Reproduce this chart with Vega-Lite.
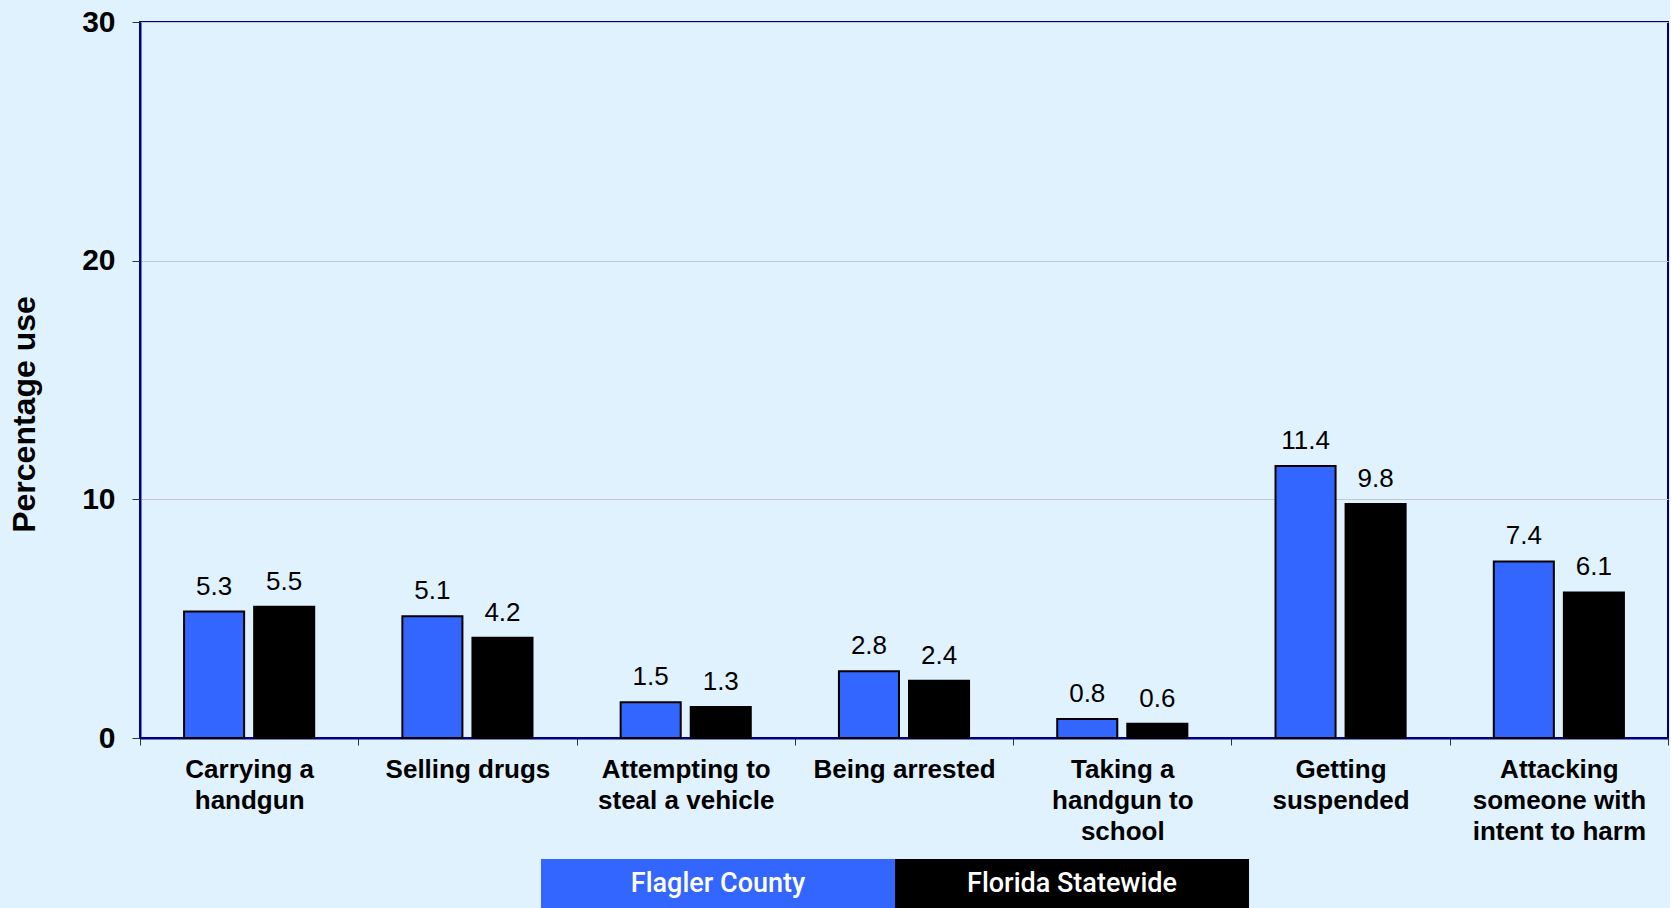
{
  "$schema": "https://vega.github.io/schema/vega-lite/v6.json",
  "background": "#E0F2FE",
  "padding": {"left": 7, "top": 6, "right": 0, "bottom": 0},
  "config": {
    "font": "Liberation Sans",
    "view": {"stroke": null}
  },
  "datasets": {
    "rates": [
      {"behavior": "Carrying a handgun", "area": "Flagler County", "pct": 5.3},
      {"behavior": "Carrying a handgun", "area": "Florida Statewide", "pct": 5.5},
      {"behavior": "Selling drugs", "area": "Flagler County", "pct": 5.1},
      {"behavior": "Selling drugs", "area": "Florida Statewide", "pct": 4.2},
      {"behavior": "Attempting to steal a vehicle", "area": "Flagler County", "pct": 1.5},
      {"behavior": "Attempting to steal a vehicle", "area": "Florida Statewide", "pct": 1.3},
      {"behavior": "Being arrested", "area": "Flagler County", "pct": 2.8},
      {"behavior": "Being arrested", "area": "Florida Statewide", "pct": 2.4},
      {"behavior": "Taking a handgun to school", "area": "Flagler County", "pct": 0.8},
      {"behavior": "Taking a handgun to school", "area": "Florida Statewide", "pct": 0.6},
      {"behavior": "Getting suspended", "area": "Flagler County", "pct": 11.4},
      {"behavior": "Getting suspended", "area": "Florida Statewide", "pct": 9.8},
      {"behavior": "Attacking someone with intent to harm", "area": "Flagler County", "pct": 7.4},
      {"behavior": "Attacking someone with intent to harm", "area": "Florida Statewide", "pct": 6.1}
    ],
    "series": [
      {"area": "Flagler County"},
      {"area": "Florida Statewide"}
    ]
  },
  "vconcat": [
    {
      "width": 1528,
      "height": 716,
      "data": {"name": "rates"},
      "view": {"stroke": "#000080", "strokeWidth": 2, "fill": "#E0F2FE"},
      "encoding": {
        "x": {
          "field": "behavior",
          "type": "nominal",
          "sort": null,
          "scale": {"paddingInner": 0, "paddingOuter": 0},
          "axis": {
            "title": null,
            "labelAngle": 0,
            "labelFontSize": 26,
            "labelFontWeight": "bold",
            "labelColor": "#000000",
            "labelLineHeight": 31,
            "labelPadding": 11,
            "labelLimit": 0,
            "tickBand": "extent",
            "tickColor": "#333333",
            "tickSize": 7,
            "domainColor": "#000080",
            "domainWidth": 2,
            "grid": false,
            "labelExpr": "datum.value == 'Carrying a handgun' ? ['Carrying a', 'handgun'] : datum.value == 'Attempting to steal a vehicle' ? ['Attempting to', 'steal a vehicle'] : datum.value == 'Taking a handgun to school' ? ['Taking a', 'handgun to', 'school'] : datum.value == 'Getting suspended' ? ['Getting', 'suspended'] : datum.value == 'Attacking someone with intent to harm' ? ['Attacking', 'someone with', 'intent to harm'] : datum.value"
          }
        },
        "xOffset": {
          "field": "area",
          "type": "nominal",
          "sort": ["Flagler County", "Florida Statewide"],
          "scale": {"paddingInner": 0.143, "paddingOuter": 0.629}
        },
        "y": {
          "field": "pct",
          "type": "quantitative",
          "scale": {"domain": [0, 30]},
          "axis": {
            "values": [0, 10, 20, 30],
            "title": "Percentage use",
            "titleFontSize": 32,
            "titleFontWeight": "bold",
            "titleColor": "#000000",
            "titleX": -116,
            "titleY": 392,
            "titleBaseline": "middle",
            "titleAlign": "center",
            "labelFontSize": 30,
            "labelFontWeight": "bold",
            "labelColor": "#000000",
            "labelPadding": 17,
            "tickColor": "#333333",
            "tickSize": 8,
            "domainColor": "#000080",
            "domainWidth": 2,
            "grid": true,
            "gridColor": "#C4C8CC",
            "gridWidth": 1
          }
        }
      },
      "layer": [
        {
          "mark": {"type": "bar", "stroke": "#000000", "strokeWidth": 2},
          "encoding": {
            "color": {
              "field": "area",
              "type": "nominal",
              "scale": {"domain": ["Flagler County", "Florida Statewide"], "range": ["#3366FF", "#000000"]},
              "legend": null
            }
          }
        },
        {
          "mark": {"type": "text", "baseline": "alphabetic", "dy": -17, "fontSize": 26, "color": "#000000"},
          "encoding": {
            "text": {"field": "pct", "type": "quantitative", "format": ".1f"}
          }
        }
      ]
    },
    {
      "width": 726,
      "height": 49,
      "data": {"name": "series"},
      "view": {"stroke": null},
      "encoding": {
        "x": {
          "field": "area",
          "type": "nominal",
          "sort": ["Flagler County", "Florida Statewide"],
          "scale": {"paddingInner": 0, "paddingOuter": 0.0254, "align": 0},
          "axis": null
        }
      },
      "layer": [
        {
          "mark": {"type": "rect"},
          "encoding": {
            "color": {
              "field": "area",
              "type": "nominal",
              "scale": {"domain": ["Flagler County", "Florida Statewide"], "range": ["#3366FF", "#000000"]},
              "legend": null
            }
          }
        },
        {
          "mark": {"type": "text", "color": "#FFFFFF", "font": "Roboto", "fontWeight": 500, "fontSize": 27, "baseline": "middle"},
          "encoding": {
            "text": {"field": "area", "type": "nominal"}
          }
        }
      ]
    }
  ],
  "spacing": 121,
  "bounds": "flush",
  "center": true
}
